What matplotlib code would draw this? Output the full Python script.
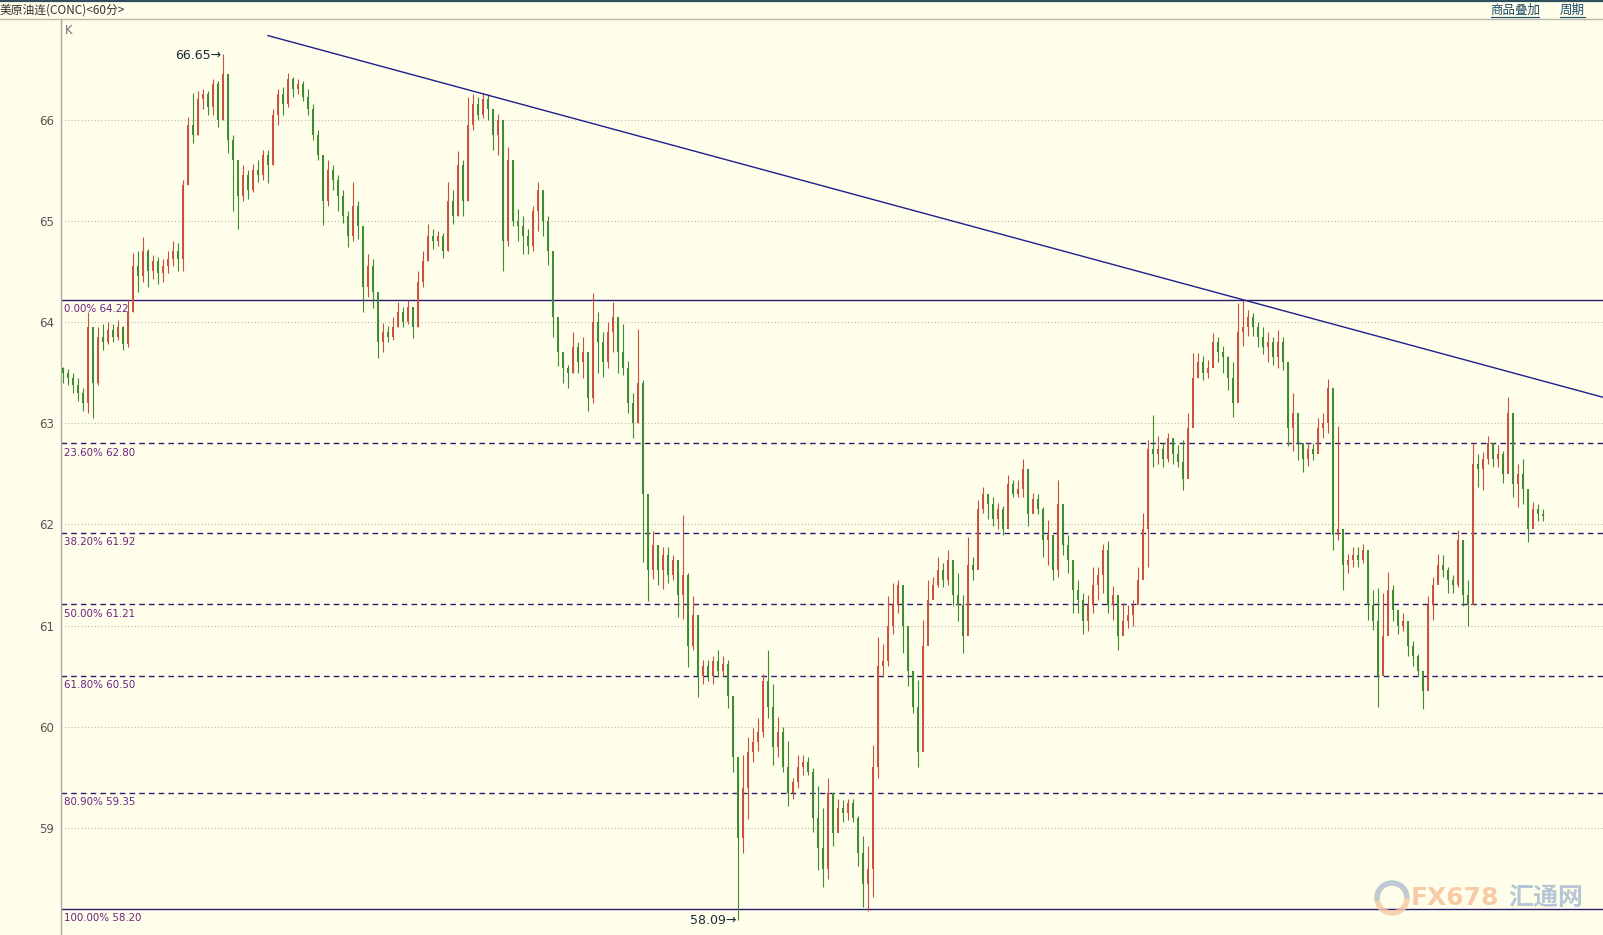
import matplotlib.pyplot as plt
from matplotlib.lines import Line2D
from matplotlib.patches import Arc

# hourly bars (open of each bar = previous close)
open0 = 63.55
close = [63.50, 63.45, 63.38, 63.30, 63.20, 63.95, 63.40, 63.85, 63.80, 63.92,
         63.85, 63.95, 63.78, 64.10, 64.55, 64.45, 64.70, 64.50, 64.60, 64.48,
         64.55, 64.62, 64.70, 64.62, 65.35, 65.95, 65.85, 66.20, 66.25, 66.12,
         66.35, 66.00, 66.45, 65.80, 65.60, 65.25, 65.45, 65.30, 65.50, 65.45,
         65.65, 65.55, 66.05, 66.25, 66.15, 66.40, 66.30, 66.35, 66.22, 66.10,
         65.85, 65.65, 65.20, 65.50, 65.40, 65.25, 65.05, 64.85, 65.15, 64.95,
         64.35, 64.55, 64.30, 63.80, 63.90, 63.85, 63.95, 64.10, 64.00, 64.15,
         63.95, 64.40, 64.60, 64.85, 64.80, 64.85, 64.70, 65.20, 65.05, 65.55,
         65.20, 65.95, 66.15, 66.05, 66.20, 66.10, 65.85, 66.00, 64.80, 65.60,
         65.00, 64.95, 64.85, 64.75, 65.10, 65.30, 65.00, 64.70, 64.05, 63.70,
         63.55, 63.50, 63.75, 63.60, 63.70, 63.25, 64.00, 63.80, 63.60, 63.90,
         64.05, 63.70, 63.55, 63.20, 63.00, 63.40, 62.30, 61.55, 61.80, 61.55,
         61.70, 61.50, 61.65, 61.30, 61.50, 60.80, 61.10, 60.50, 60.60, 60.50,
         60.65, 60.55, 60.62, 60.30, 59.70, 58.90, 59.40, 59.75, 59.85, 59.95,
         60.45, 60.20, 59.80, 59.95, 59.60, 59.35, 59.45, 59.60, 59.65, 59.55,
         59.10, 58.80, 58.60, 59.35, 58.95, 59.20, 59.15, 59.25, 59.10, 58.75,
         58.45, 58.60, 59.60, 60.60, 60.65, 61.00, 61.20, 61.40, 61.00, 60.55,
         60.20, 59.75, 60.80, 61.25, 61.40, 61.55, 61.45, 61.65, 61.30, 61.20,
         60.90, 61.60, 61.55, 62.15, 62.30, 62.20, 62.05, 62.15, 61.95, 62.40,
         62.30, 62.35, 62.55, 62.10, 62.25, 62.15, 61.85, 61.90, 61.55, 62.20,
         61.80, 61.65, 61.35, 61.25, 61.05, 61.20, 61.40, 61.50, 61.75, 61.20,
         61.30, 60.90, 61.05, 61.10, 61.20, 61.45, 61.95, 62.75, 62.70, 62.75,
         62.65, 62.85, 62.70, 62.62, 62.45, 62.95, 63.45, 63.60, 63.50, 63.55,
         63.80, 63.70, 63.65, 63.45, 63.20, 63.90, 63.95, 64.05, 63.95, 63.85,
         63.75, 63.80, 63.65, 63.80, 63.60, 62.95, 63.10, 62.80, 62.65, 62.75,
         62.70, 62.95, 63.00, 63.35, 61.90, 61.95, 61.60, 61.65, 61.70, 61.65,
         61.75, 61.20, 61.05, 60.50, 60.90, 61.35, 61.15, 61.00, 61.05, 60.80,
         60.70, 60.55, 60.35, 61.20, 61.40, 61.60, 61.55, 61.45, 61.40, 61.85,
         61.30, 61.20, 62.60, 62.55, 62.65, 62.80, 62.65, 62.70, 62.50, 63.10,
         62.40, 62.50, 62.35, 61.95, 62.15, 62.10, 62.08]
high = [63.56, 63.54, 63.50, 63.45, 63.35, 64.10, 63.70, 63.95, 63.98, 64.00,
        63.98, 64.02, 63.96, 64.22, 64.68, 64.70, 64.84, 64.72, 64.66, 64.64,
        64.62, 64.70, 64.80, 64.78, 65.40, 66.03, 66.26, 66.28, 66.30, 66.28,
        66.40, 66.38, 66.65, 66.45, 65.85, 65.40, 65.55, 65.50, 65.56, 65.60,
        65.70, 65.70, 66.10, 66.30, 66.32, 66.46, 66.42, 66.40, 66.38, 66.30,
        66.15, 65.90, 65.65, 65.60, 65.55, 65.45, 65.30, 65.10, 65.38, 65.20,
        64.82, 64.67, 64.62, 64.03, 63.99, 63.96, 64.05, 64.20, 64.15, 64.22,
        64.15, 64.50, 64.70, 64.97, 64.92, 64.90, 64.88, 65.38, 65.30, 65.69,
        65.60, 66.22, 66.25, 66.22, 66.26, 66.25, 66.10, 66.06, 65.95, 65.73,
        65.55, 65.12, 65.05, 64.92, 65.15, 65.38, 65.27, 65.05, 64.22, 64.00,
        63.64, 63.58, 63.90, 63.80, 63.85, 63.57, 64.29, 64.10, 63.90, 64.00,
        64.20, 64.00, 63.98, 63.61, 63.30, 63.93, 63.43, 61.93, 61.93, 61.80,
        61.78, 61.78, 61.70, 61.52, 62.09, 61.52, 61.29, 61.06, 60.66, 60.66,
        60.70, 60.76, 60.70, 60.66, 60.26, 59.55, 59.72, 59.90, 59.99, 60.09,
        60.52, 60.76, 60.42, 60.10, 60.00, 59.86, 59.49, 59.72, 59.72, 59.70,
        59.59, 59.42, 59.20, 59.49, 59.32, 59.29, 59.28, 59.29, 59.29, 59.12,
        58.92, 58.82, 59.82, 60.89, 60.82, 61.29, 61.42, 61.45, 61.19, 60.80,
        60.53, 60.46, 61.06, 61.45, 61.48, 61.68, 61.62, 61.75, 61.58, 61.52,
        61.30, 61.88, 61.68, 62.24, 62.37, 62.30, 62.27, 62.21, 62.18, 62.49,
        62.44, 62.44, 62.65, 62.50, 62.31, 62.30, 62.17, 62.04, 61.90, 62.44,
        62.04, 61.90, 61.55, 61.45, 61.32, 61.30, 61.58, 61.58, 61.81, 61.84,
        61.39, 61.19, 61.22, 61.20, 61.25, 61.58, 62.11, 62.83, 63.08, 62.87,
        62.80, 62.90, 62.85, 62.78, 62.83, 63.10, 63.69, 63.69, 63.66, 63.62,
        63.89, 63.85, 63.76, 63.66, 63.60, 64.19, 64.22, 64.12, 64.09, 64.00,
        63.95, 63.90, 63.85, 63.92, 63.85, 63.59, 63.30, 62.97, 62.77, 62.80,
        62.80, 63.05, 63.10, 63.44, 63.26, 62.97, 61.71, 61.71, 61.78, 61.78,
        61.81, 61.61, 61.35, 61.37, 61.32, 61.53, 61.40, 61.12, 61.12, 60.99,
        60.85, 60.72, 60.50, 61.29, 61.48, 61.71, 61.70, 61.58, 61.50, 61.94,
        61.84, 61.45, 62.80, 62.70, 62.72, 62.87, 62.80, 62.78, 62.73, 63.26,
        63.10, 62.60, 62.65, 62.30, 62.22, 62.20, 62.15]
low = [63.40, 63.38, 63.30, 63.22, 63.12, 63.10, 63.05, 63.38, 63.72, 63.78,
       63.80, 63.82, 63.72, 63.75, 64.10, 64.30, 64.40, 64.35, 64.42, 64.38,
       64.40, 64.48, 64.55, 64.50, 64.50, 65.35, 65.77, 65.85, 66.10, 66.05,
       66.05, 65.93, 66.00, 65.67, 65.10, 64.92, 65.20, 65.22, 65.28, 65.38,
       65.40, 65.37, 65.55, 65.95, 66.05, 66.12, 66.22, 66.25, 66.18, 66.05,
       65.80, 65.60, 64.96, 65.15, 65.30, 65.10, 64.98, 64.74, 64.80, 64.82,
       64.10, 64.25, 64.14, 63.64, 63.70, 63.80, 63.82, 63.95, 63.95, 63.98,
       63.84, 63.95, 64.35, 64.60, 64.72, 64.75, 64.63, 64.70, 64.97, 65.05,
       65.05, 65.20, 65.90, 66.00, 66.02, 66.00, 65.70, 65.65, 64.50, 64.75,
       64.95, 64.80, 64.67, 64.67, 64.70, 64.90, 64.85, 64.56, 63.85, 63.57,
       63.40, 63.35, 63.50, 63.50, 63.45, 63.12, 63.20, 63.50, 63.46, 63.55,
       63.70, 63.50, 63.48, 63.10, 62.85, 63.00, 61.63, 61.24, 61.46, 61.40,
       61.36, 61.42, 61.45, 61.09, 61.07, 60.59, 60.76, 60.29, 60.42, 60.45,
       60.42, 60.49, 60.50, 60.19, 59.55, 58.09, 58.75, 59.09, 59.65, 59.76,
       59.90, 60.09, 59.62, 59.70, 59.55, 59.22, 59.29, 59.40, 59.52, 59.52,
       58.96, 58.59, 58.42, 58.50, 58.82, 59.06, 59.06, 59.08, 59.06, 58.62,
       58.22, 58.18, 58.32, 59.49, 60.49, 60.60, 60.92, 61.12, 60.73, 60.40,
       60.14, 59.60, 60.10, 61.00, 61.29, 61.38, 61.38, 61.40, 61.19, 61.05,
       60.73, 61.22, 61.45, 61.68, 62.11, 62.05, 61.98, 61.95, 61.90, 62.14,
       62.27, 62.27, 62.27, 61.98, 62.11, 62.10, 61.68, 61.60, 61.45, 61.48,
       61.70, 61.52, 61.12, 61.12, 60.92, 60.95, 61.12, 61.25, 61.32, 61.12,
       61.06, 60.76, 60.96, 60.98, 61.00, 61.25, 61.58, 61.58, 62.57, 62.60,
       62.57, 62.62, 62.60, 62.57, 62.34, 62.57, 63.10, 63.45, 63.43, 63.45,
       63.56, 63.60, 63.50, 63.33, 63.06, 63.46, 63.76, 63.86, 63.86, 63.75,
       63.68, 63.60, 63.58, 63.55, 63.53, 62.77, 62.73, 62.64, 62.52, 62.58,
       62.64, 62.77, 62.85, 62.90, 61.75, 61.85, 61.35, 61.52, 61.58, 61.58,
       61.62, 61.06, 60.96, 60.20, 60.59, 61.10, 61.05, 60.92, 60.95, 60.70,
       60.60, 60.50, 60.18, 60.46, 61.06, 61.45, 61.48, 61.32, 61.32, 61.38,
       61.19, 61.00, 61.45, 62.37, 62.34, 62.60, 62.57, 62.57, 62.41, 62.70,
       62.27, 62.17, 62.20, 61.83, 62.00, 62.03, 62.03]

# Fibonacci retracement levels
fib_pct = ['0.00%', '23.60%', '38.20%', '50.00%', '61.80%', '80.90%', '100.00%']
fib_level = [64.22, 62.80, 61.92, 61.21, 60.50, 59.35, 58.20]

# trendline anchors (bar index, price)
trend_x = [41, 236]
trend_y = [66.83, 64.22]

y_ticks = [59, 60, 61, 62, 63, 64, 65, 66]

bg = '#fffeeb'
red = '#c9503c'
green = '#3c8c2e'

fig = plt.figure(figsize=(16.03, 9.35), dpi=100, facecolor=bg)
ax = fig.add_axes([61 / 1603, 0, 1 - 61 / 1603, 916 / 935])
ax.set_facecolor(bg)

n = len(close)
x = list(range(n))
opens = [open0] + close[:-1]
cols = [red if c >= o else green for o, c in zip(opens, close)]
ax.vlines(x, low, high, colors=cols, linewidth=0.8, zorder=3)
ax.vlines(x, [min(o, c) for o, c in zip(opens, close)],
          [max(o, c) for o, c in zip(opens, close)],
          colors=cols, linewidth=1.4, zorder=3)

xmin, xmax = -0.4, 308
ax.set_xlim(xmin, xmax)
ax.set_ylim(57.943, 66.994)

# grid
for t in y_ticks:
    ax.axhline(t, color='#b9b9b0', lw=0.8, ls=(0, (1, 2)), zorder=1)

# fib lines and labels
for pct, lvl in zip(fib_pct, fib_level):
    solid = pct in ('0.00%', '100.00%')
    ax.axhline(lvl, color='#2b1b6e', lw=1.0, ls='-' if solid else (0, (4, 3)), zorder=2)
    ax.annotate(f'{pct} {lvl:.2f}', xy=(xmin, lvl), xytext=(2, -3),
                textcoords='offset points', ha='left', va='top',
                fontsize=7.4, color='#6a2380', zorder=4)

# trendline extended to the right edge
slope = (trend_y[1] - trend_y[0]) / (trend_x[1] - trend_x[0])
ax.plot([trend_x[0], xmax], [trend_y[0], trend_y[1] + slope * (xmax - trend_x[1])],
        color='#1f1f8c', lw=1.0, zorder=4)

# extreme labels
i_hi = high.index(max(high))
i_lo = low.index(min(low))
ax.annotate(f'{max(high):.2f}\u2192', xy=(i_hi, max(high)), xytext=(-1, -1),
            textcoords='offset points', ha='right', va='center',
            fontsize=9, color='#1a2a3a', zorder=5)
ax.annotate(f'{min(low):.2f}\u2192', xy=(i_lo, min(low)), xytext=(-1, 0),
            textcoords='offset points', ha='right', va='center',
            fontsize=9, color='#1a2a3a', zorder=5)

ax.text(0.3, 66.88, 'K', fontsize=8.5, color='#707070', va='center', ha='left')

ax.set_yticks(y_ticks)
ax.set_yticklabels([str(t) for t in y_ticks])
ax.tick_params(axis='y', length=0, pad=5, labelsize=8.5, labelcolor='#555555')
ax.set_xticks([])
for s in ['top', 'right', 'bottom']:
    ax.spines[s].set_visible(False)
ax.spines['left'].set_color('#a8a8a0')
ax.spines['left'].set_linewidth(1.0)

# header bar
cjk = ['Noto Sans CJK SC', 'DejaVu Sans']
fig.add_artist(Line2D([0, 1], [1 - 1 / 935, 1 - 1 / 935], color='#2e4f5e', lw=1.6))
fig.add_artist(Line2D([0, 1], [916 / 935, 916 / 935], color='#b8b8aa', lw=1.0))
fig.text(0.0, 1 - 10 / 935, '美原油连(CONC)<60分>', fontsize=8.5, color='#333333',
         va='center', ha='left', family=cjk)
for label, xc, w in [('商品叠加', 1515, 48), ('周期', 1572, 25)]:
    fig.text(xc / 1603, 1 - 10 / 935, label, fontsize=9, color='#1d4a68',
             va='center', ha='center', family=cjk)
    fig.add_artist(Line2D([(xc - w / 2) / 1603, (xc + w / 2) / 1603],
                          [1 - 17 / 935, 1 - 17 / 935], color='#1d4a68', lw=0.8))

# watermark
fig.add_artist(Arc((1392 / 1603, 1 - 898 / 935), 30 / 1603, 30 / 935, theta1=0, theta2=200,
                   color='#aebdcc', lw=4, alpha=0.8))
fig.add_artist(Arc((1392 / 1603, 1 - 898 / 935), 30 / 1603, 30 / 935, theta1=200, theta2=360,
                   color='#f6c7a3', lw=4, alpha=0.8))
fig.text(1411 / 1603, 1 - 898 / 935, 'FX678', fontsize=18, fontweight='bold',
         color='#f7c39a', alpha=0.85, va='center', ha='left')
fig.text(1508 / 1603, 1 - 898 / 935, '汇通网', fontsize=18, fontweight='bold',
         color='#a9bcd3', alpha=0.85, va='center', ha='left', family=cjk)

fig.savefig('out.png', dpi=100, facecolor=bg)
